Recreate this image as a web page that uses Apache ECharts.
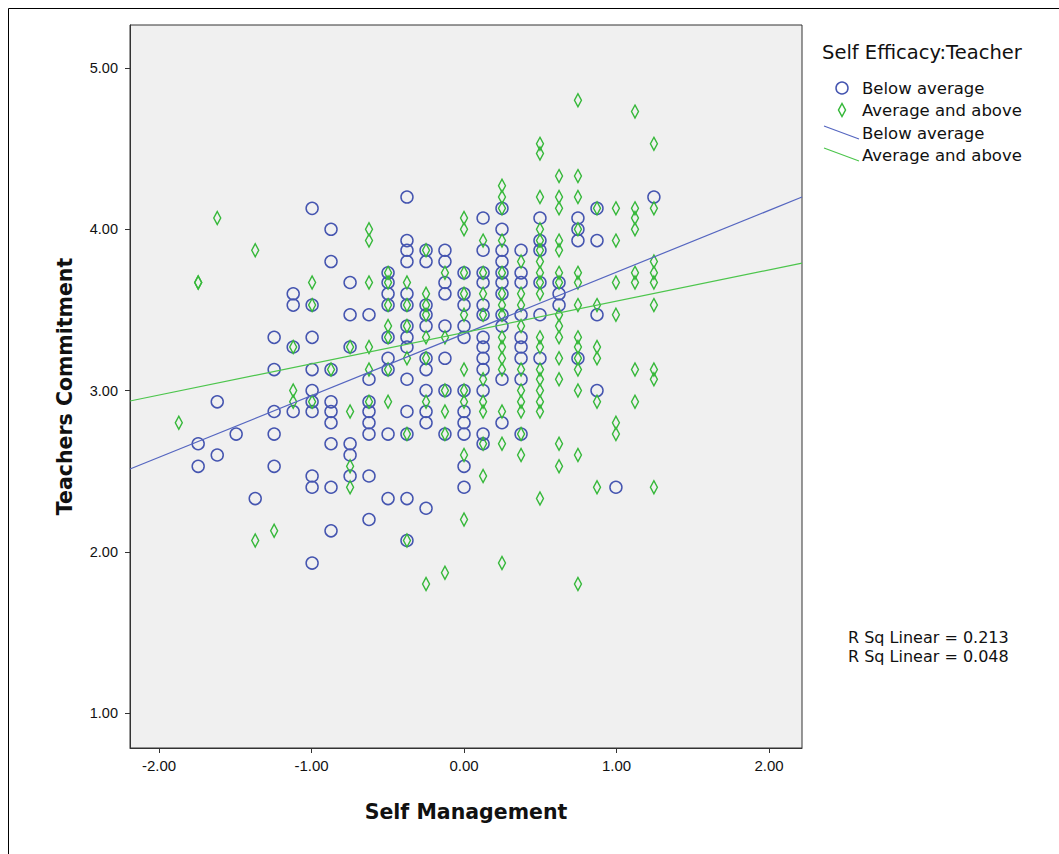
<!DOCTYPE html>
<html><head><meta charset="utf-8">
<script src="https://cdn.jsdelivr.net/npm/echarts@6/dist/echarts.min.js"></script>
<style>html,body{margin:0;padding:0;background:#fff}#c{width:1059px;height:854px}</style>
</head><body><div id="c"></div>
<script>
// Distinct Self Management levels (x)
const xLevels = [-1.87, -1.743, -1.618, -1.494, -1.369, -1.245, -1.12, -0.996, -0.872, -0.747, -0.623, -0.498, -0.374, -0.249, -0.125, 0, 0.125, 0.249, 0.374, 0.498, 0.623, 0.747, 0.872, 0.996, 1.121, 1.245];
// Teachers Commitment values per x level: "Below average" group
const belowByLevel = [
  [],
  [2.67, 2.53],
  [2.93, 2.6],
  [2.73],
  [2.33],
  [3.33, 3.13, 2.87, 2.73, 2.53],
  [3.6, 3.53, 3.27, 2.87],
  [4.13, 3.53, 3.33, 3.13, 3.0, 2.93, 2.87, 2.47, 2.4, 1.93],
  [4.0, 3.8, 3.13, 2.93, 2.87, 2.8, 2.67, 2.4, 2.13],
  [3.67, 3.47, 3.27, 2.67, 2.6, 2.47],
  [3.47, 3.07, 2.93, 2.87, 2.8, 2.73, 2.47, 2.2],
  [3.73, 3.67, 3.6, 3.53, 3.33, 3.2, 3.13, 2.73, 2.33],
  [4.2, 3.93, 3.87, 3.8, 3.6, 3.53, 3.4, 3.33, 3.27, 3.07, 2.87, 2.73, 2.33, 2.07],
  [3.87, 3.8, 3.53, 3.47, 3.4, 3.2, 3.13, 3.0, 2.87, 2.8, 2.27],
  [3.87, 3.8, 3.67, 3.6, 3.4, 3.2, 3.0, 2.73],
  [3.73, 3.6, 3.53, 3.4, 3.33, 3.0, 2.87, 2.8, 2.73, 2.53, 2.4],
  [4.07, 3.87, 3.73, 3.67, 3.53, 3.47, 3.33, 3.27, 3.2, 3.13, 3.0, 2.73, 2.67],
  [4.13, 4.0, 3.87, 3.8, 3.73, 3.67, 3.6, 3.47, 3.4, 3.07, 2.8],
  [3.87, 3.73, 3.67, 3.47, 3.33, 3.27, 3.2, 3.07, 2.73],
  [4.07, 3.93, 3.87, 3.67, 3.47, 3.2],
  [3.67, 3.6, 3.53],
  [4.07, 4.0, 3.93, 3.2],
  [4.13, 3.93, 3.47, 3.0],
  [2.4],
  [],
  [4.2]
];
// "Average and above" group
const aboveByLevel = [
  [2.8],
  [3.67, 3.67],
  [4.07],
  [],
  [3.87, 2.07],
  [2.13],
  [3.27, 3.0, 2.93],
  [3.67, 3.53, 2.93],
  [3.13],
  [3.27, 2.87, 2.53, 2.4],
  [4.0, 3.93, 3.67, 3.27, 3.13, 2.93],
  [3.73, 3.67, 3.53, 3.4, 3.33, 3.13, 2.93],
  [3.67, 3.53, 3.4, 3.2, 2.73, 2.07],
  [3.87, 3.6, 3.53, 3.47, 3.33, 3.2, 2.93, 1.8],
  [3.73, 3.33, 3.0, 2.87, 2.73, 1.87],
  [4.07, 4.0, 3.73, 3.6, 3.47, 3.13, 3.0, 2.93, 2.6, 2.2],
  [3.93, 3.73, 3.6, 3.47, 3.07, 2.93, 2.87, 2.67, 2.47],
  [4.27, 4.2, 4.13, 3.93, 3.73, 3.6, 3.53, 3.47, 3.33, 3.27, 3.2, 3.13, 2.87, 2.67, 1.93],
  [3.8, 3.6, 3.53, 3.4, 3.13, 3.0, 2.93, 2.87, 2.73, 2.6],
  [4.53, 4.47, 4.2, 4.0, 3.93, 3.87, 3.8, 3.73, 3.67, 3.6, 3.33, 3.27, 3.13, 3.07, 3.0, 2.93, 2.87, 2.33],
  [4.33, 4.2, 4.13, 3.93, 3.87, 3.73, 3.67, 3.47, 3.4, 3.33, 3.2, 3.07, 2.67, 2.53],
  [4.8, 4.33, 4.2, 4.0, 3.73, 3.67, 3.53, 3.33, 3.27, 3.2, 3.13, 3.0, 2.6, 1.8],
  [4.13, 3.53, 3.27, 3.2, 2.93, 2.4],
  [4.13, 3.93, 3.67, 3.47, 2.8, 2.73],
  [4.73, 4.13, 4.07, 4.0, 3.73, 3.67, 3.13, 2.93],
  [4.53, 4.13, 3.8, 3.73, 3.67, 3.53, 3.13, 3.07, 2.4]
];
// Fit lines (endpoints at axis range)
const belowFit = [[-2.19, 2.513], [2.216, 4.2]];
const aboveFit = [[-2.19, 2.935], [2.216, 3.79]];
const xRange = [-2.19, 2.216];
const yRange = [0.783, 5.267];
const xTicks = [-2, -1, 0, 1, 2];
const yTicks = [1, 2, 3, 4, 5];
const groupNames = ['Below average', 'Average and above'];
const legendTitle = 'Self Efficacy:Teacher';
const rsqLabels = ['R Sq Linear = 0.213', 'R Sq Linear = 0.048'];
const xName = 'Self Management';
const yName = 'Teachers Commitment';

const BLUE = '#4555b0';
const GREEN = '#36b83a';
const BLUE_L = '#5566c0';
const GREEN_L = '#4cc54c';
const FONT = '"Liberation Sans", Arial, sans-serif';
const WFONT = '"DejaVu Sans", sans-serif';

function toPoints(byLevel) {
  const out = [];
  byLevel.forEach((ys, i) => ys.forEach(y => out.push([xLevels[i], y])));
  return out;
}
const DIAMOND = 'path://M5,0 L10,10 L5,20 L0,10 Z';

const chart = echarts.init(document.getElementById('c'), null, {renderer: 'svg'});
chart.setOption({
  animation: false,
  backgroundColor: '#ffffff',
  textStyle: {fontFamily: FONT},
  grid: {left: 130, top: 25, right: 257, bottom: 106, show: true, backgroundColor: '#f0f0f0', borderColor: '#333', borderWidth: 1},
  xAxis: {
    type: 'value', min: xRange[0], max: xRange[1],
    axisLine: {show: true, onZero: false, lineStyle: {color: '#333'}},
    axisTick: {show: true, customValues: xTicks, length: 5, lineStyle: {color: '#333'}},
    axisLabel: {customValues: xTicks, formatter: v => v.toFixed(2), fontSize: 15, color: '#111', margin: 10, fontFamily: FONT},
    splitLine: {show: false},
    name: xName, nameLocation: 'middle', nameGap: 53,
    nameTextStyle: {fontSize: 20.5, fontWeight: 'bold', color: '#111', fontFamily: WFONT}
  },
  yAxis: {
    type: 'value', min: yRange[0], max: yRange[1],
    axisLine: {show: true, onZero: false, lineStyle: {color: '#333'}},
    axisTick: {show: true, customValues: yTicks, length: 5, lineStyle: {color: '#333'}},
    axisLabel: {customValues: yTicks, formatter: v => v.toFixed(2), fontSize: 14.5, color: '#111', margin: 12, fontFamily: FONT},
    splitLine: {show: false},
    name: yName, nameLocation: 'middle', nameGap: 55,
    nameTextStyle: {fontSize: 20.5, fontWeight: 'bold', color: '#111', fontFamily: WFONT}
  },
  series: [
    {name: groupNames[0], type: 'scatter', data: toPoints(belowByLevel), symbol: 'circle', symbolSize: 12,
     itemStyle: {color: 'rgba(0,0,0,0)', borderColor: BLUE, borderWidth: 1.5, opacity: 1}, z: 2},
    {name: groupNames[1], type: 'scatter', data: toPoints(aboveByLevel), symbol: DIAMOND, symbolSize: [7, 13],
     itemStyle: {color: 'rgba(0,0,0,0)', borderColor: GREEN, borderWidth: 1.5, opacity: 1}, z: 3},
    {name: groupNames[0] + ' fit', type: 'line', data: belowFit, symbol: 'none', lineStyle: {color: BLUE_L, width: 1.2}, z: 4, silent: true},
    {name: groupNames[1] + ' fit', type: 'line', data: aboveFit, symbol: 'none', lineStyle: {color: GREEN_L, width: 1.2}, z: 4, silent: true}
  ],
  graphic: [
    {type: 'rect', shape: {x: 8.5, y: 8.5, width: 1100, height: 900}, style: {fill: 'none', stroke: '#000', lineWidth: 1}, silent: true, z: 0},
    {type: 'text', left: 822, top: 42, style: {text: legendTitle, font: '19.5px ' + WFONT, fill: '#111'}},
    {type: 'circle', shape: {cx: 842, cy: 88, r: 6}, style: {fill: 'none', stroke: BLUE, lineWidth: 1.5}},
    {type: 'polygon', shape: {points: [[842, 103.5], [845.5, 110], [842, 116.5], [838.5, 110]]}, style: {fill: 'none', stroke: GREEN, lineWidth: 1.5}},
    {type: 'line', shape: {x1: 824, y1: 126, x2: 859, y2: 139}, style: {stroke: BLUE_L, lineWidth: 1.2}},
    {type: 'line', shape: {x1: 824, y1: 148, x2: 859, y2: 161}, style: {stroke: GREEN_L, lineWidth: 1.2}},
    {type: 'text', left: 862, top: 80, style: {text: groupNames[0], font: '16.5px ' + WFONT, fill: '#111'}},
    {type: 'text', left: 862, top: 102, style: {text: groupNames[1], font: '16.5px ' + WFONT, fill: '#111'}},
    {type: 'text', left: 862, top: 125, style: {text: groupNames[0], font: '16.5px ' + WFONT, fill: '#111'}},
    {type: 'text', left: 862, top: 147, style: {text: groupNames[1], font: '16.5px ' + WFONT, fill: '#111'}},
    {type: 'text', left: 848, top: 629, style: {text: rsqLabels[0], font: '16px ' + WFONT, fill: '#111'}},
    {type: 'text', left: 848, top: 648, style: {text: rsqLabels[1], font: '16px ' + WFONT, fill: '#111'}}
  ]
});
</script></body></html>
